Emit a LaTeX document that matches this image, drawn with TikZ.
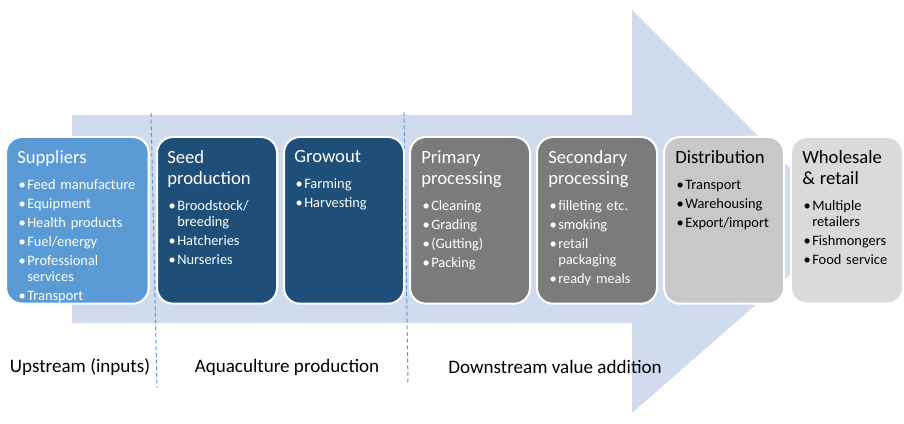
\documentclass[tikz,border=0pt]{standalone}
\usepackage{fontspec}
\setmainfont{Carlito}
\usetikzlibrary{positioning}

\definecolor{arrowblue}{HTML}{D0DCEE}
\definecolor{supplyblue}{HTML}{5B9BD5}
\definecolor{farmblue}{HTML}{1F4E79}
\definecolor{procgrey}{HTML}{7B7B7B}
\definecolor{distgrey}{HTML}{C8C8C8}
\definecolor{retailgrey}{HTML}{DADADA}

% heading and bullet lines inside a stage box
\newcommand{\stagehead}[1]{{\noindent\fontsize{14}{15.75}\selectfont #1\par}\vspace{7.5pt}}
\newcommand{\itm}[1]{\hangindent=7.5pt\hangafter=1\noindent\makebox[7.5pt][l]{\hspace{1pt}\textbullet}#1\par\vspace{2pt}}

\tikzset{
  stage/.style={draw=white, line width=1.5pt, rounded corners=12pt, anchor=north west,
    minimum width=90pt, minimum height=125pt, inner sep=0pt},
  stagetext/.style={anchor=north west, inner sep=0pt, text width=95pt, align=left,
    font=\fontsize{10.8}{12.25}\selectfont},
  phase/.style={font=\fontsize{14.3}{16}\selectfont},
  divider/.style={supplyblue, line width=0.75pt, dash pattern=on 3pt off 2pt}
}

\begin{document}
\begin{tikzpicture}[x=0.75pt, y=-0.75pt]
  \useasboundingbox (0,0) rectangle (904,424);

  % Big arrow behind the chain
  \fill[arrowblue] (72,115) -- (632,115) -- (632,10) -- (847,225) -- (632,413)
    -- (632,323) -- (72,323) -- cycle;

  % Dashed dividers
  \coordinate (upA) at (151,113);
  \coordinate (downA) at (157,388);
  \coordinate (upB) at (404,112);
  \coordinate (downB) at (408,385);
  \draw[divider] (upA) -- (downA);
  \draw[divider] (upB) -- (downB);

  % Stage boxes
  \node[stage, fill=supplyblue, minimum width=107pt] (suppliers) at (5,136) {};
  \node[stage, fill=farmblue] (seed) at (156,136) {};
  \node[stage, fill=farmblue] (growout) at (283,136) {};
  \node[stage, fill=procgrey] (primary) at (409,136) {};
  \node[stage, fill=procgrey] (secondary) at (536,136) {};
  \node[stage, fill=distgrey] (distribution) at (663,136) {};
  \node[stage, fill=retailgrey, minimum width=84pt] (retail) at (790,136) {};

  % Box contents
  \node[stagetext, text=white] (suppliers text) at ([shift={(12,14)}]suppliers.north west)
    {\stagehead{Suppliers}\itm{Feed manufacture}\itm{Equipment}\itm{Health products}
     \itm{Fuel/energy}\itm{Professional\newline services}\itm{Transport}};
  \node[stagetext, text=white] (seed text) at ([shift={(11,14)}]seed.north west)
    {\stagehead{Seed\newline production}\itm{Broodstock/\newline breeding}\itm{Hatcheries}
     \itm{Nurseries}};
  \node[stagetext, text=white] (growout text) at ([shift={(11,14)}]growout.north west)
    {\stagehead{Growout}\itm{Farming}\itm{Harvesting}};
  \node[stagetext, text=white] (primary text) at ([shift={(12,14)}]primary.north west)
    {\stagehead{Primary\newline processing}\itm{Cleaning}\itm{Grading}\itm{(Gutting)}
     \itm{Packing}};
  \node[stagetext, text=white] (secondary text) at ([shift={(12,14)}]secondary.north west)
    {\stagehead{Secondary\newline processing}\itm{filleting etc.}\itm{smoking}
     \itm{retail\newline packaging}\itm{ready meals}};
  \node[stagetext, text=black] (distribution text) at ([shift={(12,14)}]distribution.north west)
    {\stagehead{Distribution}\itm{Transport}\itm{Warehousing}\itm{Export/import}};
  \node[stagetext, text=black] (retail text) at ([shift={(12,14)}]retail.north west)
    {\stagehead{Wholesale\newline \& retail}\itm{Multiple\newline retailers}\itm{Fishmongers}
     \itm{Food service}};

  % Part labels
  \node[phase] (upstream) at (80,367) {Upstream (inputs)};
  \node[phase] (aquaculture) at (287,367) {Aquaculture production};
  \node[phase] (downstream) at (555,367) {Downstream value addition};
\end{tikzpicture}
\end{document}
